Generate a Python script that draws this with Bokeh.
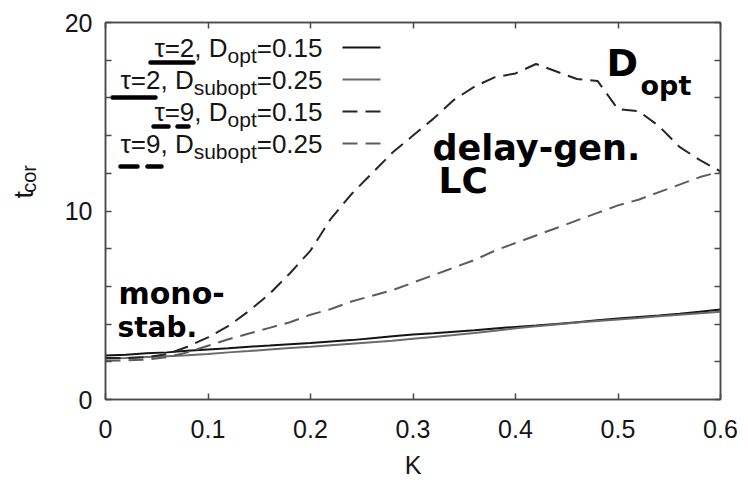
from math import pi
from bokeh.plotting import figure
from bokeh.layouts import row
from bokeh.models import FixedTicker, LinearAxis, Label, Range1d
from bokeh.embed import file_html
from bokeh.resources import INLINE

# ---------------- data ----------------
K = [0.00, 0.02, 0.04, 0.06, 0.08, 0.10, 0.12, 0.14, 0.16, 0.18, 0.20,
     0.22, 0.24, 0.26, 0.28, 0.30, 0.32, 0.34, 0.36, 0.38, 0.40,
     0.42, 0.44, 0.46, 0.48, 0.50, 0.52, 0.54, 0.56, 0.58, 0.60]

t_tau2_opt = [2.33, 2.38, 2.45, 2.5, 2.58, 2.65, 2.72, 2.8, 2.86, 2.93, 3.0,
              3.08, 3.15, 3.25, 3.35, 3.45, 3.52, 3.6, 3.68, 3.77, 3.85,
              3.92, 4.0, 4.1, 4.2, 4.3, 4.38, 4.46, 4.55, 4.66, 4.77]
t_tau2_sub = [2.17, 2.2, 2.25, 2.3, 2.35, 2.42, 2.5, 2.57, 2.65, 2.73, 2.8,
              2.88, 2.96, 3.04, 3.12, 3.22, 3.32, 3.42, 3.53, 3.65, 3.78,
              3.88, 3.98, 4.08, 4.17, 4.25, 4.33, 4.42, 4.5, 4.57, 4.65]
t_tau9_opt = [2.2, 2.2, 2.25, 2.4, 2.8, 3.3, 3.9, 4.7, 5.6, 6.7, 7.9,
              9.6, 10.9, 12.0, 13.1, 14.0, 14.9, 15.9, 16.6, 17.1, 17.3,
              17.8, 17.4, 17.0, 16.9, 15.4, 15.3, 14.5, 13.4, 12.7, 12.1]
t_tau9_sub = [2.05, 2.08, 2.12, 2.25, 2.5, 2.85, 3.2, 3.5, 3.8, 4.1, 4.5,
              4.8, 5.2, 5.5, 5.8, 6.2, 6.6, 7.0, 7.4, 7.9, 8.3,
              8.7, 9.1, 9.5, 9.9, 10.3, 10.6, 11.0, 11.4, 11.8, 12.1]

series_main = ["τ=2, D", "τ=2, D", "τ=9, D", "τ=9, D"]
series_sub = ["opt", "subopt", "opt", "subopt"]
series_tail = ["=0.15", "=0.25", "=0.15", "=0.25"]

x_ticks = [0, 0.1, 0.2, 0.3, 0.4, 0.5, 0.6]
x_tick_labels = ["0", "0.1", "0.2", "0.3", "0.4", "0.5", "0.6"]
y_ticks = [0, 10, 20]
y_tick_labels = ["0", "10", "20"]
y_minor = [2, 4, 6, 8, 12, 14, 16, 18]
y_all = [0, 2, 4, 6, 8, 10, 12, 14, 16, 18, 20]

# ---------------- layout ----------------
FW, FH = 615, 377
TOPB, BOTB = 22, 87
H = TOPB + FH + BOTB
LW = 45  # width of the narrow strip holding the y-axis title
XMAX, YMAX = 0.6, 20.0
FONT = "Liberation Sans"
HAND = "DejaVu Sans"
AXC = "#4a4a4a"
TXT = "#151515"
BL = 0.33  # label anchor sits this many em above the baseline


def fx(px):
    return px / FW * XMAX


def fy(py):
    return YMAX - py / FH * YMAX


ARIAL = {' ': 278, ',': 278, '.': 278, '=': 584, 'D': 722, 'o': 556, 'p': 556,
         't': 278, 's': 500, 'u': 556, 'b': 556, 'τ': 480}
for d in "0123456789":
    ARIAL[d] = 556


def tw(s, size):
    return sum(ARIAL.get(c, 556) for c in s) / 1000.0 * size


p = figure(frame_width=FW, frame_height=FH, x_range=(0, XMAX), y_range=(0, YMAX),
           output_backend="svg", toolbar_location=None,
           min_border_left=105 - LW, min_border_right=26, min_border_top=TOPB,
           min_border_bottom=BOTB,
           background_fill_color="white", border_fill_color="white")


def text_at(px, py_base, txt, size, font=FONT, align="left", style="normal", color=TXT):
    p.add_layout(Label(x=fx(px), y=fy(py_base - BL * size), text=txt, text_font=font,
                       text_font_size=f"{size}px", text_font_style=style, text_color=color,
                       text_align=align, text_baseline="alphabetic"))


p.grid.visible = False
p.outline_line_color = AXC
p.outline_line_width = 1.5

xa = p.xaxis[0]
xa.ticker = FixedTicker(ticks=x_ticks)
xa.major_label_overrides = dict(zip(x_ticks, x_tick_labels))
ya = p.yaxis[0]
ya.ticker = FixedTicker(ticks=y_ticks, minor_ticks=y_minor)
ya.major_label_overrides = dict(zip(y_ticks, y_tick_labels))

for ax in (xa, ya):
    ax.axis_line_color = AXC
    ax.axis_line_width = 1.5
    ax.major_tick_line_color = AXC
    ax.minor_tick_line_color = AXC
    ax.major_tick_line_width = 1.5
    ax.minor_tick_line_width = 1.5
    ax.major_tick_in = 6
    ax.major_tick_out = 0
    ax.minor_tick_in = 6
    ax.minor_tick_out = 0
    ax.major_label_text_font = FONT
    ax.major_label_text_font_size = "25px"
    ax.major_label_text_color = TXT
ya.major_label_standoff = 13
xa.minor_tick_in = 0
xa.major_label_standoff = 20
xa.axis_label = "K"
xa.axis_label_text_font = FONT
xa.axis_label_text_font_size = "25px"
xa.axis_label_text_font_style = "normal"
xa.axis_label_text_color = TXT
xa.axis_label_standoff = 10

top = LinearAxis(ticker=FixedTicker(ticks=[], minor_ticks=x_ticks),
                 axis_line_color=AXC, axis_line_width=1.5,
                 minor_tick_line_color=AXC, minor_tick_line_width=1.5,
                 minor_tick_in=6, minor_tick_out=0, major_tick_in=0, major_tick_out=0,
                 major_label_standoff=0)
right = LinearAxis(ticker=FixedTicker(ticks=[], minor_ticks=y_all),
                   axis_line_color=AXC, axis_line_width=1.5,
                   minor_tick_line_color=AXC, minor_tick_line_width=1.5,
                   minor_tick_in=6, minor_tick_out=0, major_tick_in=0, major_tick_out=0,
                   major_label_standoff=0)
p.add_layout(top, "above")
p.add_layout(right, "right")

# ---------------- curves ----------------
styles = [
    dict(y=t_tau2_opt, color="#141414", dash="solid"),
    dict(y=t_tau2_sub, color="#6a6a6a", dash="solid"),
    dict(y=t_tau9_opt, color="#262626", dash="15 8"),
    dict(y=t_tau9_sub, color="#5c5c5c", dash="15 8"),
]
for st in styles:
    p.line(K, st["y"], line_color=st["color"], line_width=2, line_dash=st["dash"])

# ---------------- legend (drawn manually for subscripts) ----------------
R = 217
rows_py = [34, 66, 98, 130]
MS, SS = 26, 21
for i, st in enumerate(styles):
    py = rows_py[i]
    w_tail = tw(series_tail[i], MS)
    w_sub = tw(series_sub[i], SS)
    text_at(R, py, series_tail[i], MS, align="right")
    text_at(R - w_tail, py + 6, series_sub[i], SS, align="right")
    text_at(R - w_tail - w_sub, py, series_main[i], MS, align="right")
    p.line([fx(237), fx(275)], [fy(py - 9), fy(py - 9)], line_color=st["color"],
           line_width=2, line_dash=st["dash"])

# hand-drawn underlines under the legend's tau values
strokes = [
    (45, 88, 40), (7, 50, 75),
    (48, 63, 104), (72, 83, 104),
    (15, 32, 144), (42, 56, 144),
]
for x0, x1, yy in strokes:
    p.line([fx(x0), fx(x1)], [fy(yy), fy(yy)], line_color="black", line_width=4.5, line_cap="round")

# ---------------- hand-written annotations ----------------
notes = [
    ("D", 501, 53, 38),
    ("opt", 535, 72, 27),
    ("delay-gen.", 327, 137, 35),
    ("LC", 333, 170, 36),
    ("mono-", 13, 281, 30),
    ("stab.", 12, 314, 28),
]
for txt, px, py, sz in notes:
    text_at(px, py, txt, sz, font=HAND, style="bold", color="black")

# ---------------- y-axis title strip: t_cor ----------------
yt = figure(width=LW, height=H, x_range=Range1d(0, LW), y_range=Range1d(H, 0),
            output_backend="svg", toolbar_location=None, min_border=0,
            x_axis_type=None, y_axis_type=None, outline_line_color=None,
            background_fill_color="white", border_fill_color="white")
yt.grid.visible = False
t_base_x, t_start_y = 32, 227
yt.add_layout(Label(x=t_base_x - BL * 27, y=t_start_y, text="t", angle=pi / 2,
                    text_font=FONT, text_font_size="27px", text_color=TXT,
                    text_align="left", text_baseline="alphabetic"))
yt.add_layout(Label(x=t_base_x + 3 - BL * 20, y=t_start_y - tw("t", 27), text="cor",
                    angle=pi / 2, text_font=FONT, text_font_size="20px", text_color=TXT,
                    text_align="left", text_baseline="alphabetic"))

layout = row(yt, p)
open("out.html", "w").write(file_html(layout, INLINE))
